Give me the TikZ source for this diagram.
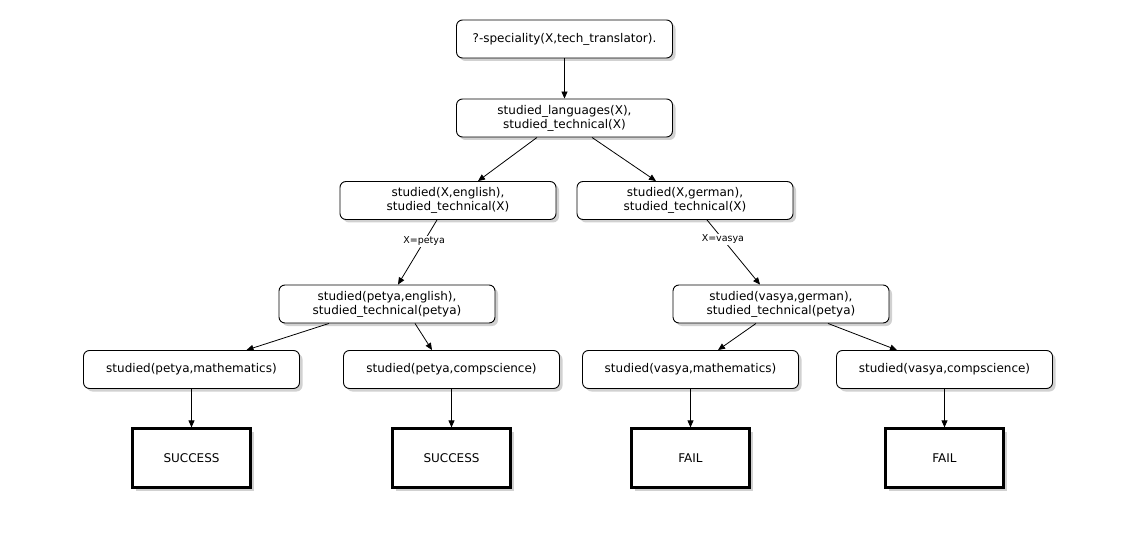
\documentclass[tikz,border=0pt]{standalone}
\usepackage{fontspec}
\setmainfont{DejaVu Sans}
\usetikzlibrary{shadows,arrows.meta}
\begin{document}
\begin{tikzpicture}[x=1pt,y=-1pt,
  goal/.style={draw=black, line width=0.9pt, rounded corners=6pt, fill=white,
    minimum width=216pt, minimum height=38pt, align=center, inner sep=2pt,
    font=\fontsize{12}{14}\selectfont,
    drop shadow={shadow xshift=3pt, shadow yshift=-3pt, fill=gray!60, opacity=0.6}},
  res/.style={draw=black, line width=2.2pt, fill=white,
    minimum width=118pt, minimum height=59pt, align=center,
    font=\fontsize{12}{14}\selectfont,
    drop shadow={shadow xshift=3pt, shadow yshift=-3pt, fill=gray!60, opacity=0.6}},
  arr/.style={draw=black, line width=0.8pt, -{Triangle[length=7pt,width=6pt]}},
  lbl/.style={fill=white, inner sep=1pt, font=\fontsize{9.5}{11}\selectfont}
]
\useasboundingbox (0,0) rectangle (1140,537);

\node[goal] (n1) at (564.5,39) {?-speciality(X,tech\_translator).};
\node[goal] (n2) at (564.5,118) {studied\_languages(X),\\studied\_technical(X)};
\node[goal] (n3) at (448,200.5) {studied(X,english),\\studied\_technical(X)};
\node[goal] (n4) at (685,200.5) {studied(X,german),\\studied\_technical(X)};
\node[goal] (n5) at (387,304) {studied(petya,english),\\studied\_technical(petya)};
\node[goal] (n6) at (781,304) {studied(vasya,german),\\studied\_technical(petya)};
\node[goal] (n7) at (191.5,369.5) {studied(petya,mathematics)};
\node[goal] (n8) at (451.5,369.5) {studied(petya,compscience)};
\node[goal] (n9) at (690.5,369.5) {studied(vasya,mathematics)};
\node[goal] (n10) at (944.5,369.5) {studied(vasya,compscience)};
\node[res] (r1) at (191.5,458) {SUCCESS};
\node[res] (r2) at (451.5,458) {SUCCESS};
\node[res] (r3) at (690.5,458) {FAIL};
\node[res] (r4) at (944.5,458) {FAIL};

\draw[arr] (n1) -- (n2);
\draw[arr] ([xshift=-27.5pt]n2.south) -- ([xshift=30pt]n3.north);
\draw[arr] ([xshift=27.5pt]n2.south) -- ([xshift=-29pt]n4.north);
\draw[arr] ([xshift=-11pt]n3.south) -- node[lbl, pos=0.33] (l1) {X=petya} ([xshift=11pt]n5.north);
\draw[arr] ([xshift=22pt]n4.south) -- node[lbl, pos=0.3] (l2) {X=vasya} ([xshift=-21pt]n6.north);
\draw[arr] ([xshift=-58pt]n5.south) -- ([xshift=55pt]n7.north);
\draw[arr] ([xshift=28pt]n5.south) -- ([xshift=-19.5pt]n8.north);
\draw[arr] ([xshift=-25pt]n6.south) -- ([xshift=27.5pt]n9.north);
\draw[arr] ([xshift=47pt]n6.south) -- ([xshift=-47.5pt]n10.north);
\draw[arr] (n7) -- (r1);
\draw[arr] (n8) -- (r2);
\draw[arr] (n9) -- (r3);
\draw[arr] (n10) -- (r4);
\end{tikzpicture}
\end{document}
